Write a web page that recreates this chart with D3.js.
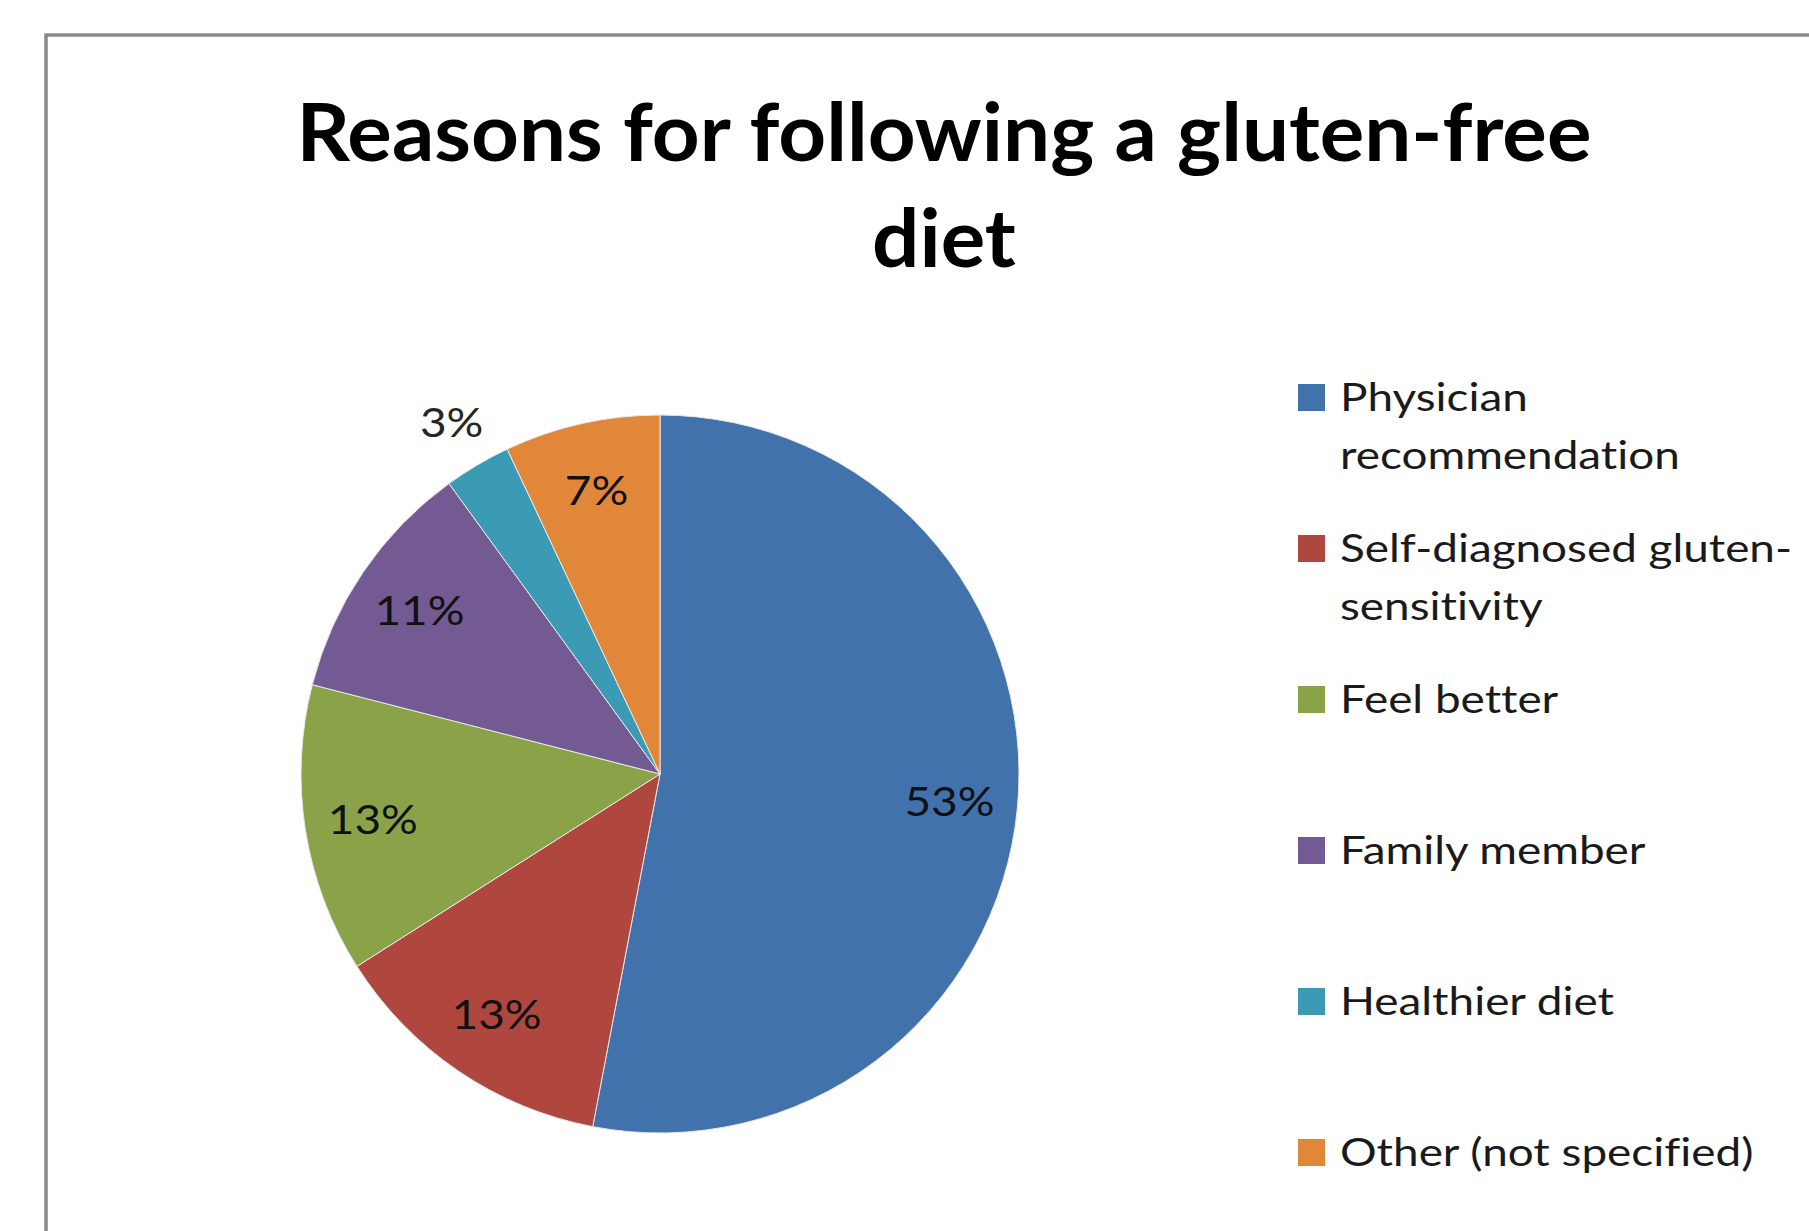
<!DOCTYPE html>
<html>
<head>
<meta charset="utf-8">
<script src="https://cdn.jsdelivr.net/npm/d3@7"></script>
<style>
  html, body { margin: 0; padding: 0; background: #fff; }
  svg { display: block; }
  text { font-variant-ligatures: none; font-feature-settings: "liga" 0, "clig" 0; }
</style>
</head>
<body>
<svg id="chart" width="1809" height="1231"></svg>
<script>
// Survey answers: why respondents follow a gluten-free diet (percent)
const categories = [
  "Physician recommendation",
  "Self-diagnosed gluten-sensitivity",
  "Feel better",
  "Family member",
  "Healthier diet",
  "Other (not specified)"
];
const values = [53, 13, 13, 11, 3, 7];
// Legend labels as they wrap in the legend box
const legendLines = [
  ["Physician", "recommendation"],
  ["Self-diagnosed gluten-", "sensitivity"],
  ["Feel better"],
  ["Family member"],
  ["Healthier diet"],
  ["Other (not specified)"]
];
const titleLines = ["Reasons for following a gluten-free", "diet"];
const colors = ["#4272AB", "#B0473F", "#8AA348", "#745A93", "#3B9BB4", "#E0873A"];

const svg = d3.select("#chart");
const FONT = "Lato, 'Open Sans', 'DejaVu Sans', sans-serif";

// chart area frame (runs off the right and bottom edges)
svg.append("rect")
  .attr("x", 46).attr("y", 35)
  .attr("width", 1900).attr("height", 1400)
  .attr("fill", "#fff")
  .attr("stroke", "#8a8a8a")
  .attr("stroke-width", 3.5);

// title, stretched to the wide letterforms of the chart
const titleG = svg.append("g");
const t1 = titleG.append("text")
  .attr("x", 944).attr("y", 161)
  .attr("text-anchor", "middle")
  .attr("font-family", FONT).attr("font-weight", 700)
  .attr("font-size", 80).attr("fill", "#000")
  .text(titleLines[0]);
const nat1 = t1.node().getComputedTextLength();
const titleStretch = 1295 / nat1;
t1.attr("textLength", 1295).attr("lengthAdjust", "spacingAndGlyphs");
const t2 = titleG.append("text")
  .attr("x", 944).attr("y", 267)
  .attr("text-anchor", "middle")
  .attr("font-family", FONT).attr("font-weight", 700)
  .attr("font-size", 80).attr("fill", "#000")
  .text(titleLines[1]);
t2.attr("textLength", t2.node().getComputedTextLength() * titleStretch)
  .attr("lengthAdjust", "spacingAndGlyphs");

// pie
const cx = 660, cy = 774, r = 359;
const pie = d3.pie().sort(null).value(d => d).startAngle(0).endAngle(2 * Math.PI);
const arcs = pie(values);
const arc = d3.arc().innerRadius(0).outerRadius(r);
const g = svg.append("g").attr("transform", `translate(${cx},${cy})`);

g.selectAll("path.slice")
  .data(arcs)
  .join("path")
  .attr("class", "slice")
  .attr("d", arc)
  .attr("fill", (d, i) => colors[i])
  .attr("stroke", "#e8e8e8")
  .attr("stroke-width", 1);

// data labels: inside for larger slices, just outside for small ones
const inArc = d3.arc().innerRadius(r * 0.81).outerRadius(r * 0.81);
const outArc = d3.arc().innerRadius(r * 1.14).outerRadius(r * 1.14);
g.selectAll("text.lbl")
  .data(arcs)
  .join("text")
  .attr("class", "lbl")
  .each(function (d) {
    const p = (d.data < 5 ? outArc : inArc).centroid(d);
    d3.select(this).attr("x", p[0]).attr("y", p[1]);
  })
  .attr("dy", "0.36em")
  .attr("text-anchor", "middle")
  .attr("font-family", FONT)
  .attr("font-size", 41)
  .attr("fill", d => d.data < 5 ? "#262626" : "#111")
  .text(d => d.data + "%")
  .each(function () {
    const n = this.getComputedTextLength();
    d3.select(this).attr("textLength", n * 1.12).attr("lengthAdjust", "spacingAndGlyphs");
  });

// legend
const legendX = 1298, legendTop = 384, legendStep = 151, sw = 27;
const lg = svg.append("g");
const items = lg.selectAll("g.item")
  .data(categories)
  .join("g")
  .attr("class", "item")
  .attr("transform", (d, i) => `translate(${legendX},${legendTop + i * legendStep})`);

items.append("rect")
  .attr("width", sw).attr("height", sw)
  .attr("fill", (d, i) => colors[i]);

// legend text: measure the widest line to get a common horizontal stretch
const probe = lg.append("text")
  .attr("font-family", FONT).attr("font-size", 39)
  .text(legendLines[1][0]);
const legendStretch = 452 / probe.node().getComputedTextLength();
probe.remove();

items.each(function (d, i) {
  const item = d3.select(this);
  legendLines[i].forEach((line, j) => {
    const t = item.append("text")
      .attr("x", 42)
      .attr("y", sw + j * 58)
      .attr("font-family", FONT)
      .attr("font-size", 39)
      .attr("fill", "#1a1a1a")
      .text(line);
    t.attr("textLength", t.node().getComputedTextLength() * legendStretch)
      .attr("lengthAdjust", "spacingAndGlyphs");
  });
});
</script>
</body>
</html>
